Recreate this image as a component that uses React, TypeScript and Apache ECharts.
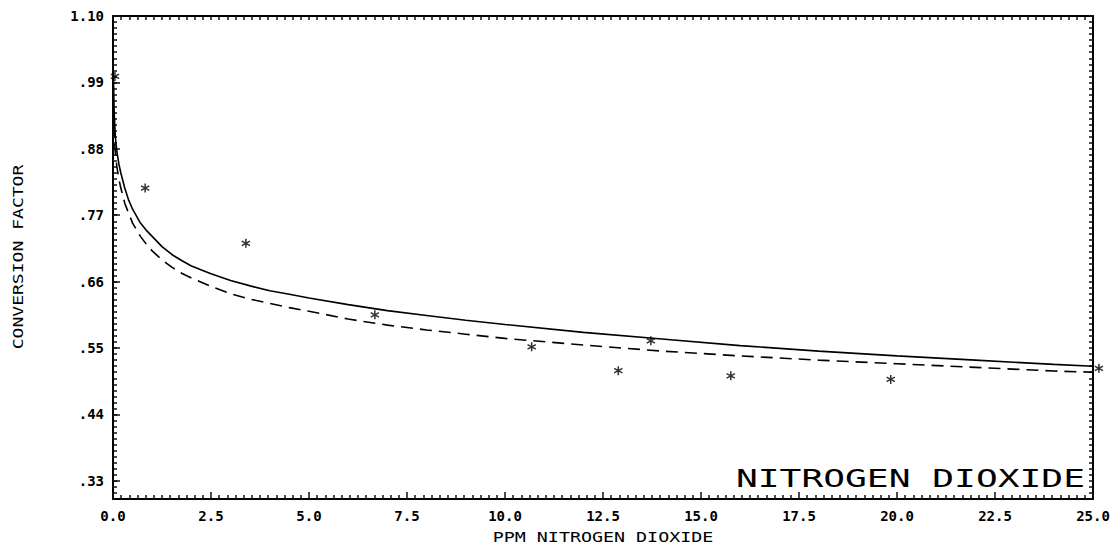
import React, { useEffect, useRef } from "react";
import * as echarts from "echarts";

// Solid fitted curve
const solidX = [0.01, 0.03, 0.06, 0.1, 0.15, 0.2, 0.3, 0.4, 0.5, 0.7, 0.85, 1.0, 1.25, 1.5, 1.75, 2.0, 2.5, 3.0, 3.5, 4.0, 4.5, 5.0, 6.0, 7.0, 8.0, 9.0, 10.0, 12.0, 14.0, 16.0, 18.0, 20.0, 22.0, 24.0, 25.0];
const solidY = [1.0, 0.94, 0.9, 0.875, 0.855, 0.84, 0.815, 0.795, 0.78, 0.757, 0.745, 0.735, 0.718, 0.705, 0.695, 0.686, 0.673, 0.662, 0.653, 0.645, 0.639, 0.633, 0.622, 0.612, 0.604, 0.596, 0.589, 0.576, 0.565, 0.554, 0.545, 0.537, 0.53, 0.523, 0.52];

// Dashed fitted curve
const dashedX = [0.02, 0.05, 0.1, 0.15, 0.2, 0.3, 0.4, 0.5, 0.7, 0.85, 1.0, 1.25, 1.5, 1.75, 2.0, 2.5, 3.0, 3.5, 4.0, 4.5, 5.0, 6.0, 7.0, 8.0, 9.0, 10.0, 12.0, 14.0, 16.0, 18.0, 20.0, 22.0, 24.0, 25.0];
const dashedY = [0.92, 0.88, 0.85, 0.83, 0.815, 0.79, 0.773, 0.757, 0.735, 0.722, 0.711, 0.696, 0.684, 0.674, 0.666, 0.652, 0.64, 0.631, 0.624, 0.617, 0.611, 0.598, 0.588, 0.58, 0.573, 0.566, 0.555, 0.545, 0.537, 0.53, 0.524, 0.518, 0.512, 0.51];

// Measured points (asterisks)
const pointX = [0.05, 0.82, 3.39, 6.68, 10.68, 12.89, 13.72, 15.76, 19.84, 25.15];
const pointY = [1.0, 0.815, 0.7235, 0.605, 0.552, 0.5125, 0.562, 0.504, 0.498, 0.5165];

// Axis ticks
const yTicks = [0.33, 0.44, 0.55, 0.66, 0.77, 0.88, 0.99, 1.1];
const xMin = 0;
const xMax = 25;
const xStep = 2.5;
const yMin = 0.3;
const yMax = 1.1;
const yMinorStep = 0.01;

const titleText = "NITROGEN DIOXIDE";
const xName = "PPM NITROGEN DIOXIDE";
const yName = "CONVERSION FACTOR";

const starPath =
  "path://M4.2,0 L5.8,0 L5.8,10 L4.2,10 Z M0.27,3.19 L1.07,1.81 L9.73,6.81 L8.93,8.19 Z M1.07,8.19 L0.27,6.81 L8.93,1.81 L9.73,3.19 Z";

const MONO = '"DejaVu Sans Mono", monospace';
const INK = "#111";

export default function App() {
  const ref = useRef<HTMLDivElement>(null);

  useEffect(() => {
    if (!ref.current) return;
    const chart = echarts.init(ref.current, null, { renderer: "svg" });
    chart.setOption({
      animation: false,
      grid: { left: 113, right: 27, top: 16, bottom: 46 },
      xAxis: [
        {
          type: "value",
          min: xMin,
          max: xMax,
          interval: xStep,
          position: "bottom",
          axisLine: { show: true, onZero: false, lineStyle: { color: "#000", width: 2 } },
          axisTick: { show: true, inside: true, length: 7, lineStyle: { color: INK, width: 1.5 } },
          minorTick: { show: true, splitNumber: 12, length: 4, lineStyle: { color: INK, width: 1.5 } },
          axisLabel: {
            color: "#000",
            fontFamily: MONO,
            fontSize: 14,
            fontWeight: "bold",
            margin: 10,
            showMinLabel: true,
            showMaxLabel: true,
            formatter: (v: number) => v.toFixed(1),
          },
          splitLine: { show: false },
        },
        {
          type: "value",
          min: xMin,
          max: xMax,
          interval: xStep,
          position: "top",
          axisLine: { show: true, onZero: false, lineStyle: { color: "#000", width: 2 } },
          axisTick: { show: true, inside: true, length: 4, lineStyle: { color: INK, width: 1.5 } },
          minorTick: { show: true, splitNumber: 12, length: 4, lineStyle: { color: INK, width: 1.5 } },
          axisLabel: { show: false },
          splitLine: { show: false },
        },
      ],
      yAxis: [
        {
          type: "value",
          min: yMin,
          max: yMax,
          position: "left",
          axisLine: { show: true, onZero: false, lineStyle: { color: "#000", width: 2 } },
          axisTick: { show: true, inside: true, length: 7, customValues: yTicks, lineStyle: { color: INK, width: 1.5 } },
          axisLabel: {
            color: "#000",
            fontFamily: MONO,
            fontSize: 14,
            fontWeight: "bold",
            margin: 9,
            customValues: yTicks,
            formatter: (v: number) => (v >= 1 ? v.toFixed(2) : v.toFixed(2).replace(/^0/, "")),
          },
          splitLine: { show: false },
        },
        {
          type: "value",
          min: yMin,
          max: yMax,
          interval: yMinorStep,
          position: "left",
          axisLine: { show: false, onZero: false },
          axisTick: { show: true, inside: true, length: 4, lineStyle: { color: INK, width: 1.5 } },
          axisLabel: { show: false },
          splitLine: { show: false },
        },
        {
          type: "value",
          min: yMin,
          max: yMax,
          interval: yMinorStep,
          position: "right",
          axisLine: { show: true, onZero: false, lineStyle: { color: "#000", width: 2 } },
          axisTick: { show: true, inside: true, length: 4, lineStyle: { color: INK, width: 1.5 } },
          axisLabel: { show: false },
          splitLine: { show: false },
        },
      ],
      series: [
        {
          type: "line",
          xAxisIndex: 0,
          yAxisIndex: 0,
          data: solidX.map((x, i) => [x, solidY[i]]),
          symbol: "none",
          showSymbol: false,
          lineStyle: { color: "#000", width: 1.6 },
        },
        {
          type: "line",
          xAxisIndex: 0,
          yAxisIndex: 0,
          data: dashedX.map((x, i) => [x, dashedY[i]]),
          symbol: "none",
          showSymbol: false,
          lineStyle: { color: "#000", width: 1.6, type: [12, 7] },
        },
        {
          type: "scatter",
          xAxisIndex: 0,
          yAxisIndex: 0,
          data: pointX.map((x, i) => [x, pointY[i]]),
          symbol: starPath,
          symbolSize: 9,
          clip: false,
          itemStyle: { color: "#000" },
        },
      ],
      graphic: [
        {
          type: "text",
          x: 1085,
          y: 478,
          scaleX: 1.45,
          style: {
            text: titleText,
            fontFamily: MONO,
            fontSize: 25,
            fill: "#000",
            align: "right",
            textAlign: "right",
            verticalAlign: "middle",
            textVerticalAlign: "middle",
          },
        },
        {
          type: "text",
          x: 603,
          y: 537,
          scaleX: 1.31,
          style: {
            text: xName,
            fontFamily: MONO,
            fontSize: 14,
            fill: "#000",
            align: "center",
            textAlign: "center",
            verticalAlign: "middle",
            textVerticalAlign: "middle",
          },
        },
        {
          type: "text",
          x: 18,
          y: 257,
          rotation: Math.PI / 2,
          scaleX: 1.29,
          style: {
            text: yName,
            fontFamily: MONO,
            fontSize: 14,
            fill: "#000",
            align: "center",
            textAlign: "center",
            verticalAlign: "middle",
            textVerticalAlign: "middle",
          },
        },
      ],
    });
    return () => chart.dispose();
  }, []);

  return <div ref={ref} style={{ position: "absolute", left: 0, top: 0, width: 1120, height: 545 }} />;
}
